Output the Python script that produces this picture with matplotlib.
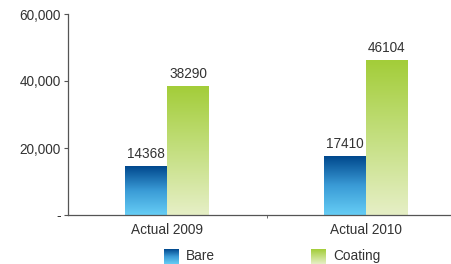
import numpy as np
import matplotlib
matplotlib.use("Agg")
import matplotlib.pyplot as plt
from matplotlib.colors import LinearSegmentedColormap
from matplotlib.ticker import FuncFormatter

categories = ["Actual 2009", "Actual 2010"]
series_names = ["Bare", "Coating"]
bare = [14368, 17410]
coating = [38290, 46104]
yticks = [0, 20000, 40000, 60000]

plt.rcParams['font.family'] = ['Liberation Sans', 'DejaVu Sans']

fig = plt.figure(figsize=(4.52, 2.64), dpi=100)
ax = fig.add_axes([67.5/452, 49/264, 398/452, 201/264])

cmaps = [
    LinearSegmentedColormap.from_list("bare", ["#66cdf5", "#3a9bd6", "#00488d"]),
    LinearSegmentedColormap.from_list("coat", ["#e6efc6", "#c4df80", "#a3cd39"]),
]
grad = np.linspace(0, 1, 256).reshape(-1, 1)
w = 0.211
x = np.arange(len(categories))
for si, vals in enumerate([bare, coating]):
    off = -w/2 if si == 0 else w/2
    for xi, v in zip(x, vals):
        x0 = xi + off - w/2
        ax.imshow(grad, cmap=cmaps[si], origin="lower", aspect="auto",
                  extent=[x0, x0 + w, 0, v], zorder=2, interpolation="bilinear")
        ax.text(xi + off, v + 1800, str(v), ha="center", va="bottom",
                fontsize=9.8, color="#333333")

ax.set_xlim(-0.5, 1.5)
ax.set_ylim(0, 60000)
ax.set_yticks(yticks)
ax.yaxis.set_major_formatter(FuncFormatter(lambda v, p: "-" if v == 0 else f"{int(v):,}"))
ax.set_xticks(x)
ax.set_xticklabels(categories)
ax.set_xticks([0.5], minor=True)
ax.tick_params(axis="x", which="major", length=0, pad=6, labelsize=9.8, labelcolor="#333333")
ax.tick_params(axis="x", which="minor", length=2.5, direction="out", color="#555555")
ax.tick_params(axis="y", length=3, direction="out", pad=2, labelsize=9.8, labelcolor="#333333", color="#555555")
for s in ["top", "right"]:
    ax.spines[s].set_visible(False)
for s in ["left", "bottom"]:
    ax.spines[s].set_color("#555555")
    ax.spines[s].set_linewidth(0.9)

# legend with gradient swatches
for i, (name, cm) in enumerate(zip(series_names, cmaps)):
    lx = [164, 311][i]
    sax = fig.add_axes([lx/452, 0/264, 15/452, 15/264])
    sax.imshow(grad, cmap=cm, origin="lower", aspect="auto", interpolation="bilinear")
    sax.axis("off")
    fig.text((lx + 22)/452, (264-256)/264, name, ha="left", va="center",
             fontsize=9.8, color="#333333")

fig.savefig("out.png", dpi=100)
